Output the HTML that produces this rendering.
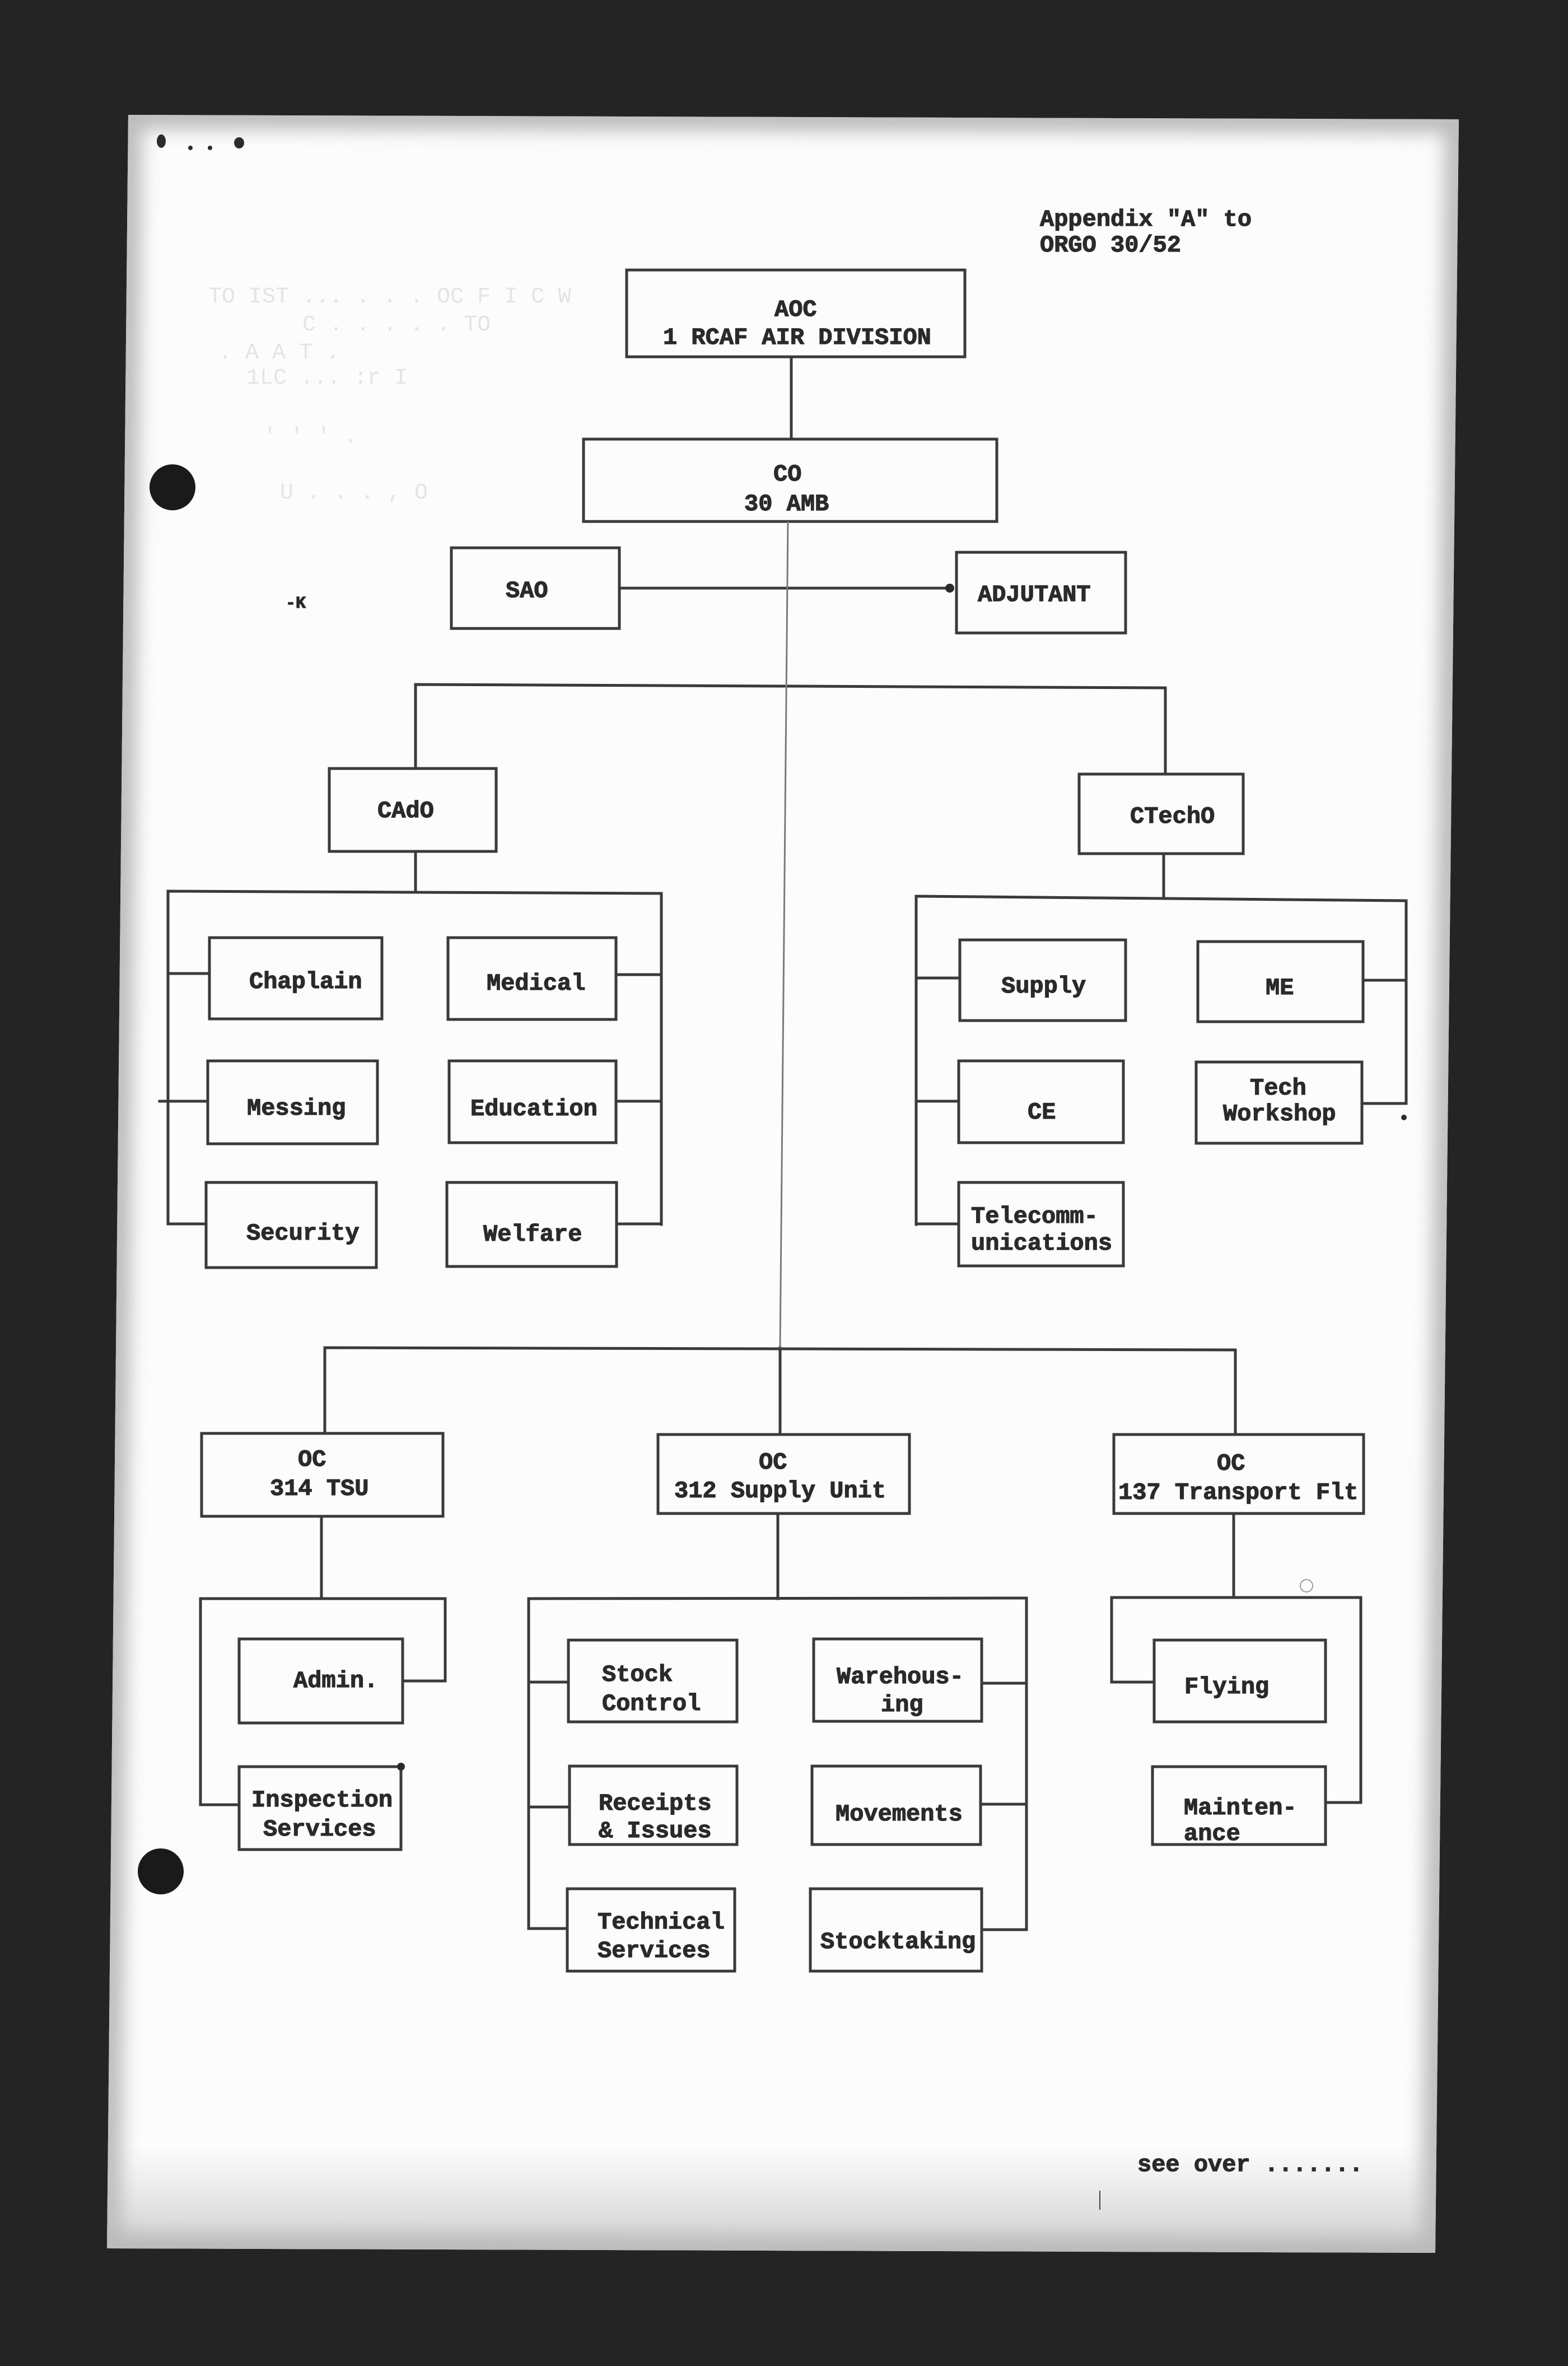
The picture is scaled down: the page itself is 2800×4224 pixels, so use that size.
<!DOCTYPE html>
<html>
<head>
<meta charset="utf-8">
<style>
html,body{margin:0;padding:0;background:#242424;}
svg{display:block;}
.t{font-family:"Liberation Mono",monospace;font-weight:bold;font-size:42px;fill:#2a2a2a;stroke:#2a2a2a;stroke-width:1.2;}
.g{font-family:"Liberation Mono",monospace;font-size:40px;fill:#e4e4e4;}
</style>
</head>
<body>
<svg width="2800" height="4224" viewBox="0 0 2800 4224" xmlns="http://www.w3.org/2000/svg">
<defs>
<clipPath id="pc"><polygon points="229,205 2605,213 2563,4022 191,4014"/></clipPath>
<filter id="bl" x="-10%" y="-10%" width="120%" height="120%"><feGaussianBlur stdDeviation="16"/></filter>
<linearGradient id="bot" x1="0" y1="0" x2="0" y2="1">
<stop offset="0" stop-color="#c8c8c8" stop-opacity="0"/>
<stop offset="1" stop-color="#b8b8b8" stop-opacity="0.75"/>
</linearGradient>
</defs>
<rect x="0" y="0" width="2800" height="4224" fill="#242424"/>
<polygon points="229,205 2605,213 2563,4022 191,4014" fill="#fcfcfc"/>
<g clip-path="url(#pc)">
<polygon points="229,205 2605,213 2563,4022 191,4014" fill="none" stroke="#bcbcbc" stroke-width="50" filter="url(#bl)"/>
<rect x="150" y="3830" width="2500" height="200" fill="url(#bot)"/>
</g>

<!-- hole punches -->
<circle cx="308" cy="870" r="41" fill="#1a1a1a"/>
<circle cx="287" cy="3341" r="41" fill="#1a1a1a"/>

<!-- top-left marks -->
<ellipse cx="288" cy="252" rx="8" ry="12" fill="#2b2b2b"/>
<circle cx="340" cy="264" r="4" fill="#2b2b2b"/>
<circle cx="375" cy="264" r="4" fill="#2b2b2b"/>
<ellipse cx="427" cy="255" rx="9" ry="10" fill="#2b2b2b"/>

<!-- faint bleed-through text -->
<text class="g" x="372" y="540">TO  IST  ...   .    .    .  OC  F  I  C   W</text>
<text class="g" x="540" y="590">C   .     .    .        .          .    TO</text>
<text class="g" x="390" y="640">. A  A  T              .</text>
<text class="g" x="440" y="685">1LC  ... :r I</text>
<text class="g" x="470" y="790">'   '     '     .</text>
<text class="g" x="500" y="890">U    .    .    .   ,    O</text>
<text class="t" x="510" y="1085" style="font-size:30px">-K</text>

<g stroke="#3a3a3a" stroke-width="5" fill="none" stroke-linecap="square">
<!-- boxes -->
<rect x="1119" y="482" width="604" height="155"/>
<rect x="1042" y="784" width="738" height="147"/>
<rect x="806" y="978" width="300" height="144"/>
<rect x="1708" y="986" width="302" height="144"/>
<rect x="588" y="1372" width="298" height="148"/>
<rect x="1927" y="1382" width="293" height="142"/>
<rect x="374" y="1674" width="308" height="145"/>
<rect x="800" y="1674" width="300" height="146"/>
<rect x="371" y="1894" width="303" height="148"/>
<rect x="802" y="1894" width="298" height="146"/>
<rect x="368" y="2111" width="304" height="152"/>
<rect x="798" y="2111" width="303" height="150"/>
<rect x="1714" y="1678" width="296" height="144"/>
<rect x="2139" y="1681" width="295" height="143"/>
<rect x="1712" y="1894" width="294" height="146"/>
<rect x="2136" y="1896" width="296" height="145"/>
<rect x="1712" y="2111" width="294" height="149"/>
<rect x="360" y="2559" width="431" height="148"/>
<rect x="1175" y="2561" width="449" height="141"/>
<rect x="1989" y="2561" width="446" height="141"/>
<rect x="427" y="2926" width="292" height="150"/>
<rect x="427" y="3154" width="289" height="148"/>
<rect x="1015" y="2928" width="301" height="146"/>
<rect x="1017" y="3153" width="299" height="140"/>
<rect x="1013" y="3372" width="299" height="147"/>
<rect x="1453" y="2926" width="300" height="147"/>
<rect x="1450" y="3153" width="301" height="140"/>
<rect x="1447" y="3372" width="306" height="147"/>
<rect x="2061" y="2928" width="306" height="146"/>
<rect x="2058" y="3154" width="309" height="139"/>

<!-- top connectors -->
<line x1="1413" y1="637" x2="1413" y2="784"/>
<line x1="1106" y1="1050" x2="1700" y2="1050"/>
<polyline points="742,1372 742,1222 2081,1228 2081,1382"/>
<line x1="742" y1="1520" x2="742" y2="1591"/>
<line x1="2078" y1="1524" x2="2078" y2="1604"/>

<!-- CAdO bracket -->
<polyline points="300,2185 300,1591 1181,1595 1181,2186"/>
<line x1="300" y1="1738" x2="374" y2="1738"/>
<line x1="285" y1="1966" x2="371" y2="1966"/>
<line x1="300" y1="2185" x2="368" y2="2185"/>
<line x1="1100" y1="1740" x2="1181" y2="1740"/>
<line x1="1100" y1="1966" x2="1181" y2="1966"/>
<line x1="1101" y1="2185" x2="1181" y2="2185"/>

<!-- CTechO bracket -->
<polyline points="1636,2186 1636,1600 2511,1608 2511,1970"/>
<line x1="1636" y1="1746" x2="1714" y2="1746"/>
<line x1="1636" y1="1966" x2="1712" y2="1966"/>
<line x1="1636" y1="2185" x2="1712" y2="2185"/>
<line x1="2434" y1="1750" x2="2511" y2="1750"/>
<line x1="2432" y1="1970" x2="2511" y2="1970"/>

<!-- lower level -->
<polyline points="580,2559 580,2406 2206,2410 2206,2561"/>
<line x1="1393" y1="2406" x2="1393" y2="2561"/>

<!-- 314 TSU -->
<line x1="574" y1="2707" x2="574" y2="2854"/>
<polyline points="427,3222 358,3222 358,2854 795,2854 795,3001 719,3001"/>

<!-- 312 Supply -->
<line x1="1389" y1="2702" x2="1389" y2="2854"/>
<polyline points="944,3443 944,2854 1833,2853 1833,3445"/>
<line x1="944" y1="3003" x2="1015" y2="3003"/>
<line x1="944" y1="3226" x2="1017" y2="3226"/>
<line x1="944" y1="3443" x2="1013" y2="3443"/>
<line x1="1753" y1="3005" x2="1833" y2="3005"/>
<line x1="1751" y1="3221" x2="1833" y2="3221"/>
<line x1="1753" y1="3445" x2="1833" y2="3445"/>

<!-- 137 Transport -->
<line x1="2203" y1="2702" x2="2203" y2="2852"/>
<polyline points="2061,3003 1985,3003 1985,2852 2430,2852 2430,3218 2367,3218"/>
</g>

<!-- faint main vertical -->
<line x1="1407" y1="931" x2="1393" y2="2406" stroke="#7a7a7a" stroke-width="3"/>

<!-- dots -->
<circle cx="1696" cy="1050" r="8" fill="#2b2b2b"/>
<circle cx="716" cy="3154" r="7" fill="#2b2b2b"/>
<circle cx="2507" cy="1995" r="5" fill="#2b2b2b"/>
<circle cx="2333" cy="2831" r="11" fill="none" stroke="#9a9a9a" stroke-width="2"/>

<!-- text -->
<g class="t">
<text x="1857" y="403">Appendix "A" to</text>
<text x="1857" y="449">ORGO 30/52</text>
<text x="1383" y="564">AOC</text>
<text x="1184" y="614">1 RCAF AIR DIVISION</text>
<text x="1381" y="858">CO</text>
<text x="1329" y="911">30 AMB</text>
<text x="903" y="1066">SAO</text>
<text x="1746" y="1073">ADJUTANT</text>
<text x="674" y="1459">CAdO</text>
<text x="2018" y="1469">CTechO</text>
<text x="445" y="1764">Chaplain</text>
<text x="869" y="1767">Medical</text>
<text x="441" y="1990">Messing</text>
<text x="840" y="1991">Education</text>
<text x="440" y="2213">Security</text>
<text x="863" y="2215">Welfare</text>
<text x="1788" y="1772">Supply</text>
<text x="2260" y="1775">ME</text>
<text x="1835" y="1997">CE</text>
<text x="2232" y="1954">Tech</text>
<text x="2184" y="2000">Workshop</text>
<text x="1734" y="2183">Telecomm-</text>
<text x="1734" y="2231">unications</text>
<text x="532" y="2617">OC</text>
<text x="482" y="2669">314 TSU</text>
<text x="1355" y="2622">OC</text>
<text x="1204" y="2673">312 Supply Unit</text>
<text x="2173" y="2624">OC</text>
<text x="1997" y="2676">137 Transport Flt</text>
<text x="524" y="3012">Admin.</text>
<text x="449" y="3225">Inspection</text>
<text x="470" y="3277">Services</text>
<text x="1075" y="3001">Stock</text>
<text x="1075" y="3053">Control</text>
<text x="1069" y="3231">Receipts</text>
<text x="1069" y="3280">&amp; Issues</text>
<text x="1067" y="3443">Technical</text>
<text x="1067" y="3494">Services</text>
<text x="1494" y="3005">Warehous-</text>
<text x="1573" y="3055">ing</text>
<text x="1492" y="3250">Movements</text>
<text x="1465" y="3478">Stocktaking</text>
<text x="2115" y="3023">Flying</text>
<text x="2114" y="3239">Mainten-</text>
<text x="2114" y="3285">ance</text>
<text x="2031" y="3876">see over .......</text>
</g>
<line x1="1964" y1="3911" x2="1964" y2="3945" stroke="#444" stroke-width="2"/>
</svg>
</body>
</html>
